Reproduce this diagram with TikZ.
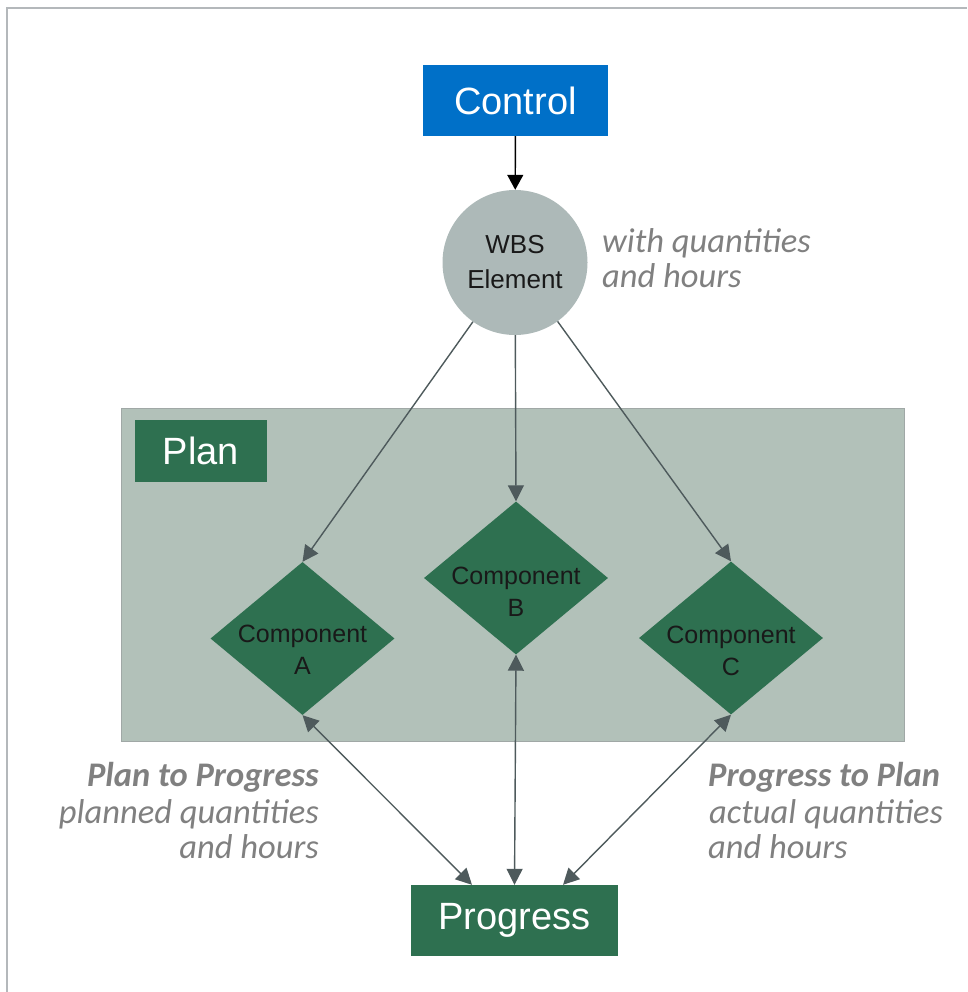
\documentclass[tikz,border=0pt]{standalone}
\usepackage{fontspec}
\setmainfont{Liberation Sans}
\newfontfamily\calfont{Carlito}
\usetikzlibrary{arrows.meta,shapes.geometric}
\definecolor{ctrlblue}{RGB}{0,112,200}
\definecolor{wbsgray}{RGB}{173,185,184}
\definecolor{planbg}{RGB}{178,193,185}
\definecolor{planborder}{RGB}{160,168,166}
\definecolor{darkgreen}{RGB}{46,112,80}
\definecolor{conngray}{RGB}{78,90,92}
\definecolor{notegray}{RGB}{128,128,128}
\definecolor{framegray}{RGB}{180,184,187}
\begin{document}
\begin{tikzpicture}[x=1pt,y=-1pt,
  bigbox/.style={inner sep=0pt, text=white, font=\fontsize{38}{44}\selectfont},
  greenbox/.style={bigbox, fill=darkgreen},
  bluebox/.style={bigbox, fill=ctrlblue},
  compshape/.style={diamond, fill=darkgreen, inner sep=0pt, minimum width=184pt, minimum height=153pt},
  comptext/.style={align=center, text=black!90, font=\fontsize{25}{32}\selectfont},
  conn/.style={draw=conngray, line width=1.4pt, -{Triangle[length=16pt,width=16pt]}},
  dconn/.style={draw=conngray, line width=1.4pt, {Triangle[length=16pt,width=16pt]}-{Triangle[length=16pt,width=16pt]}},
  ctrlarrow/.style={draw=black, line width=1.4pt, -{Triangle[length=15pt,width=16pt]}},
  note/.style={text=notegray, inner sep=0pt, font=\calfont\itshape\fontsize{34.5}{35}\selectfont},
  notebold/.style={note, font=\calfont\bfseries\itshape\fontsize{34.5}{38}\selectfont}
]
\useasboundingbox (0,0) rectangle (967,992);
\draw[framegray, line width=2pt] (6.7,992) -- (6.7,7.7) -- (967,7.7);

\node[fill=planbg, draw=planborder, line width=1pt, minimum width=783pt, minimum height=333pt, inner sep=0pt] (plan) at (512.5,574.5) {};
\node[greenbox, minimum width=132pt, minimum height=62pt] (planlabel) at (201,451) {Plan};

\node[bluebox, minimum width=185pt, minimum height=71pt] (ctrl) at (515.5,100.5) {Control};
\node[circle, fill=wbsgray, minimum size=145pt, inner sep=0pt, align=center, text=black!90, font=\fontsize{26}{35}\selectfont] (wbs) at (515,262.5) {WBS\\Element};

\node[compshape] (A) at (302.5,638.5) {};
\node[comptext] (Atext) at (302.5,650) {Component\\A};
\node[compshape] (B) at (516,578) {};
\node[comptext] (Btext) at (516,592) {Component\\B};
\node[compshape] (C) at (731,638) {};
\node[comptext] (Ctext) at (731,651) {Component\\C};

\node[greenbox, minimum width=207pt, minimum height=71pt] (prog) at (514.5,920.5) {Progress};

\draw[ctrlarrow] (ctrl) -- (wbs);
\draw[conn] (wbs) -- (A.north);
\draw[conn] (wbs) -- (B.north);
\draw[conn] (wbs) -- (C.north);
\draw[dconn] (A.south) -- ([xshift=-42.5pt]prog.north);
\draw[dconn] (B.south) -- (prog.north);
\draw[dconn] (C.south) -- ([xshift=48.5pt]prog.north);

\node[note, anchor=base west, align=left] (wq) at (602,287.7) {with quantities\\and hours};

\node[notebold, anchor=base east] (pp1) at (319,786) {Plan to Progress};
\node[note, anchor=base east, align=right] (pp2) at (319,858) {planned quantities\\and hours};

\node[notebold, anchor=base west] (pr1) at (708,786) {Progress to Plan};
\node[note, anchor=base west, align=left] (pr2) at (709,858) {actual quantities\\\hspace{-1pt}and hours};
\end{tikzpicture}
\end{document}
